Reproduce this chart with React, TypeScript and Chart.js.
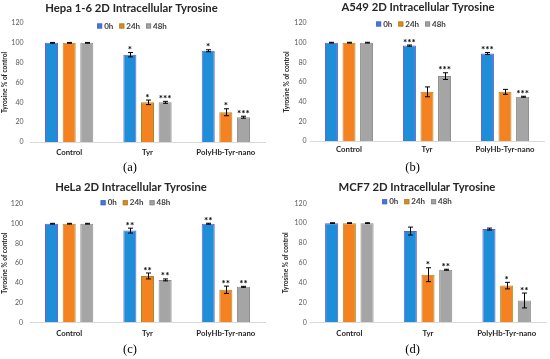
import React, { useEffect, useRef } from 'react';
import { Chart, registerables } from 'chart.js';

Chart.register(...registerables);

const FAMILY = 'Lato, "Noto Sans", sans-serif';

const categories = ['Control', 'Tyr', 'PolyHb-Tyr-nano'];
const seriesLabels = ['0h', '24h', '48h'];
const yAxisLabel = 'Tyrosine % of control';
const yMin = 0;
const yMax = 120;
const yStep = 20;

// (a) Hepa 1-6
const hepaTitle = 'Hepa 1-6 2D Intracellular Tyrosine';
const hepa0h = [100, 88, 92];
const hepa24h = [100, 40, 30];
const hepa48h = [100, 40, 25];
const hepaErr0h = [0.4, 2.2, 1];
const hepaErr24h = [0.4, 2.3, 3.5];
const hepaErr48h = [0.4, 1, 1];
const hepaStars0h = ['', '*', '*'];
const hepaStars24h = ['', '*', '*'];
const hepaStars48h = ['', '***', '***'];

// (b) A549
const a549Title = 'A549 2D Intracellular Tyrosine';
const a5490h = [100, 97, 89];
const a54924h = [100, 50, 50];
const a54948h = [100, 66, 45];
const a549Err0h = [0.4, 0.6, 1];
const a549Err24h = [0.4, 5, 2.5];
const a549Err48h = [0.4, 3.4, 0.5];
const a549Stars0h = ['', '***', '***'];
const a549Stars24h = ['', '', ''];
const a549Stars48h = ['', '***', '***'];

// (c) HeLa
const helaTitle = 'HeLa 2D Intracellular Tyrosine';
const hela0h = [100, 93, 100];
const hela24h = [100, 47, 33];
const hela48h = [100, 43, 36];
const helaErr0h = [0.4, 2.5, 0.5];
const helaErr24h = [0.4, 3, 3.7];
const helaErr48h = [0.4, 1, 0.5];
const helaStars0h = ['', '**', '**'];
const helaStars24h = ['', '**', '**'];
const helaStars48h = ['', '**', '**'];

// (d) MCF7
const mcfTitle = 'MCF7 2D Intracellular Tyrosine';
const mcf0h = [100, 92, 94];
const mcf24h = [100, 48, 37];
const mcf48h = [100, 53, 22];
const mcfErr0h = [0.4, 4, 1];
const mcfErr24h = [0.4, 7, 3.3];
const mcfErr48h = [0.4, 0.5, 7.5];
const mcfStars0h = ['', '', ''];
const mcfStars24h = ['', '*', '*'];
const mcfStars48h = ['', '**', '**'];

const fills = ['#1E8ED8', '#F58220', '#A5A5A5'];
const borders = ['#6A5ACD', '#A08C28', '#8C8C8C'];

const panels = [
  {
    caption: '(a)', title: hepaTitle,
    values: [hepa0h, hepa24h, hepa48h],
    errors: [hepaErr0h, hepaErr24h, hepaErr48h],
    stars: [hepaStars0h, hepaStars24h, hepaStars48h],
    left: 0, top: 0, h: 180, padL: 0, yW: 30, padR: 10, chartTop: 23, titleTop: 2,
    axisY: 142, xPad: 6, yPad: 6.5, titleCenter: 131.5, legendX: 132, legendY: 26,
    captionX: 130, captionY: 168,
  },
  {
    caption: '(b)', title: a549Title,
    values: [a5490h, a54924h, a54948h],
    errors: [a549Err0h, a549Err24h, a549Err48h],
    stars: [a549Stars0h, a549Stars24h, a549Stars48h],
    left: 275, top: 0, h: 180, padL: 7, yW: 28, padR: 6, chartTop: 23, titleTop: 1,
    axisY: 141, xPad: 4, yPad: 3.5, titleCenter: 143, legendX: 136, legendY: 24,
    captionX: 137.5, captionY: 167.5,
  },
  {
    caption: '(c)', title: helaTitle,
    values: [hela0h, hela24h, hela48h],
    errors: [helaErr0h, helaErr24h, helaErr48h],
    stars: [helaStars0h, helaStars24h, helaStars48h],
    left: 0, top: 180, h: 179, padL: 0, yW: 30, padR: 10, chartTop: 24, titleTop: 1,
    axisY: 142.3, xPad: 6.5, yPad: 7, titleCenter: 131, legendX: 135.5, legendY: 22.7,
    captionX: 130, captionY: 170,
  },
  {
    caption: '(d)', title: mcfTitle,
    values: [mcf0h, mcf24h, mcf48h],
    errors: [mcfErr0h, mcfErr24h, mcfErr48h],
    stars: [mcfStars0h, mcfStars24h, mcfStars48h],
    left: 275, top: 180, h: 179, padL: 6, yW: 29, padR: 4, chartTop: 23.3, titleTop: 1,
    axisY: 142.3, xPad: 6.5, yPad: 3.3, titleCenter: 142, legendX: 142, legendY: 21.7,
    captionX: 137.5, captionY: 170,
  },
];

const TITLE_SIZE = 11.3;

const decorPlugin = {
  id: 'panelDecor',
  afterLayout(chart: any, _args: any, opts: any) {
    const t = chart.titleBlock;
    if (t && opts && opts.titleCenter != null) {
      const c = (t.left + t.right) / 2;
      const dx = opts.titleCenter - c;
      t.left += dx;
      t.right += dx;
    }
  },
  afterDatasetsDraw(chart: any) {
    const ctx = chart.ctx;
    const y = chart.scales.y;
    chart.data.datasets.forEach((ds: any, i: number) => {
      const meta = chart.getDatasetMeta(i);
      meta.data.forEach((el: any, j: number) => {
        const v = ds.data[j];
        const e = ds.errors[j];
        const yt = y.getPixelForValue(v + e);
        const yb = y.getPixelForValue(v - e);
        const x = Math.round(el.x) + 0.5;
        ctx.save();
        ctx.strokeStyle = '#000';
        ctx.lineWidth = 1;
        ctx.beginPath();
        ctx.moveTo(x, yt);
        ctx.lineTo(x, yb);
        ctx.moveTo(x - 2.5, yt);
        ctx.lineTo(x + 2.5, yt);
        ctx.moveTo(x - 2.5, yb);
        ctx.lineTo(x + 2.5, yb);
        ctx.stroke();
        const s = ds.stars[j];
        if (s) {
          ctx.fillStyle = '#000';
          ctx.font = `bold 10px ${FAMILY}`;
          ctx.textAlign = 'center';
          ctx.textBaseline = 'alphabetic';
          ctx.fillText(s, el.x, yt + 0.5);
        }
        ctx.restore();
      });
    });
  },
  afterDraw(chart: any, _args: any, opts: any) {
    const ctx = chart.ctx;
    ctx.save();
    // legend
    ctx.font = `bold 8px ${FAMILY}`;
    const ds = chart.data.datasets;
    const widths = ds.map((d: any) => ctx.measureText(d.label).width);
    const box = 5;
    const gapBT = 2;
    const gapItem = 6;
    let total = 0;
    widths.forEach((w: number) => { total += box + gapBT + w; });
    total += gapItem * (ds.length - 1);
    let x = opts.legendX - total / 2;
    const cy = opts.legendY;
    ds.forEach((d: any, i: number) => {
      ctx.fillStyle = d.backgroundColor;
      ctx.fillRect(x, cy - box / 2, box, box);
      ctx.strokeStyle = d.borderColor;
      ctx.lineWidth = 1;
      ctx.strokeRect(x + 0.5, cy - box / 2 + 0.5, box - 1, box - 1);
      ctx.fillStyle = '#404040';
      ctx.textAlign = 'left';
      ctx.textBaseline = 'middle';
      ctx.fillText(d.label, x + box + gapBT, cy);
      x += box + gapBT + widths[i] + gapItem;
    });
    // caption
    ctx.font = '12.5px "Liberation Serif", "DejaVu Serif", serif';
    ctx.fillStyle = '#000';
    ctx.textAlign = 'center';
    ctx.textBaseline = 'middle';
    ctx.fillText(opts.caption, opts.captionX, opts.captionY);
    ctx.restore();
  },
};

function Panel({ cfg }: { cfg: any }) {
  const ref = useRef<HTMLCanvasElement | null>(null);
  useEffect(() => {
    if (!ref.current) return;
    const xH = 16;
    const titleLine = TITLE_SIZE * 1.2;
    const chart = new Chart(ref.current, {
      type: 'bar',
      data: {
        labels: categories,
        datasets: seriesLabels.map((label, i) => ({
          label,
          data: cfg.values[i],
          errors: cfg.errors[i],
          stars: cfg.stars[i],
          backgroundColor: fills[i],
          borderColor: borders[i],
          borderWidth: 1,
          barPercentage: 0.74,
          categoryPercentage: 0.675,
        })) as any,
      },
      options: {
        responsive: false,
        animation: false,
        devicePixelRatio: 1,
        layout: {
          padding: { left: cfg.padL, right: cfg.padR, top: 0, bottom: cfg.h - cfg.axisY - xH },
        },
        plugins: {
          legend: { display: false },
          tooltip: { enabled: false },
          title: {
            display: true,
            text: cfg.title,
            color: '#262626',
            font: { size: TITLE_SIZE, weight: 'bold', family: FAMILY, lineHeight: 1.2 },
            padding: { top: cfg.titleTop, bottom: cfg.chartTop - titleLine - cfg.titleTop },
          },
          panelDecor: {
            titleCenter: cfg.titleCenter,
            legendX: cfg.legendX,
            legendY: cfg.legendY,
            caption: cfg.caption,
            captionX: cfg.captionX,
            captionY: cfg.captionY,
          },
        } as any,
        scales: {
          x: {
            grid: { display: false, drawTicks: false },
            border: { display: true, color: '#D9D9D9', width: 1 },
            ticks: {
              color: '#262626',
              font: { size: 7.8, weight: 'bold', family: FAMILY },
              padding: cfg.xPad,
              maxRotation: 0,
              autoSkip: false,
            },
            afterFit: (s: any) => { s.height = xH; },
          },
          y: {
            min: yMin,
            max: yMax,
            ticks: {
              stepSize: yStep,
              color: '#595959',
              font: { size: 7, family: FAMILY },
              padding: cfg.yPad,
            },
            grid: { display: false, drawTicks: false },
            border: { display: false },
            title: {
              display: true,
              text: yAxisLabel,
              color: '#262626',
              font: { size: 6.5, weight: 'bold', family: FAMILY },
              padding: { top: 1, bottom: 0 },
            },
            afterFit: (s: any) => { s.width = cfg.yW; },
          },
        },
      } as any,
      plugins: [decorPlugin],
    });
    return () => chart.destroy();
  }, []);
  return (
    <div style={{ position: 'absolute', left: cfg.left, top: cfg.top, width: 275, height: cfg.h }}>
      <canvas ref={ref} width={275} height={cfg.h} style={{ display: 'block', width: 275, height: cfg.h }} />
    </div>
  );
}

export default function App() {
  return (
    <div style={{ position: 'absolute', left: 0, top: 0, width: 550, height: 359, background: '#fff' }}>
      {panels.map((p) => (
        <Panel key={p.caption} cfg={p} />
      ))}
    </div>
  );
}
